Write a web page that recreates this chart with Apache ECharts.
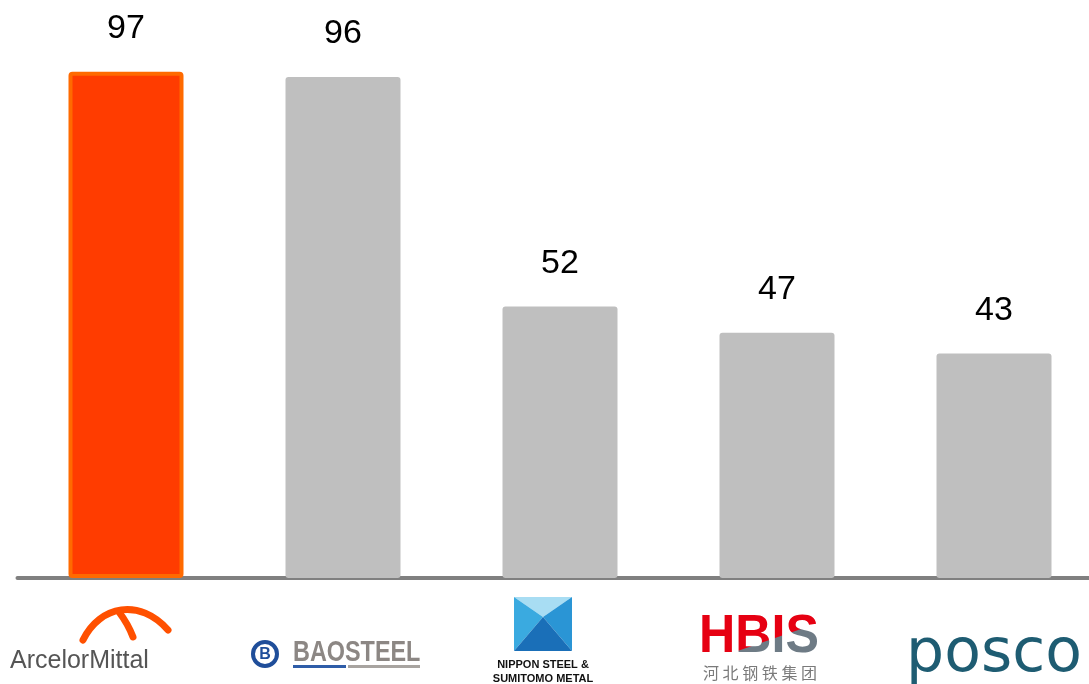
<!DOCTYPE html>
<html>
<head>
<meta charset="utf-8">
<script src="https://cdn.jsdelivr.net/npm/echarts@6/dist/echarts.min.js"></script>
<style>
html,body{margin:0;padding:0;background:#fff;}
#chart{width:1089px;height:684px;background:#fff;}
</style>
</head>
<body>
<div id="chart"></div>
<script>
const categories = ['ArcelorMittal', 'Baosteel', 'Nippon Steel & Sumitomo Metal', 'HBIS', 'POSCO'];
const values = [97, 96, 52, 47, 43];
const highlightCategory = 'ArcelorMittal';
const yMin = 0;
const yMax = 100;

const chart = echarts.init(document.getElementById('chart'));

const barData = categories.map((c, i) => {
  if (c === highlightCategory) {
    return {
      value: values[i],
      itemStyle: { color: '#FF3C00', borderColor: '#FF6A00', borderWidth: 4, borderRadius: 2 }
    };
  }
  return { value: values[i] };
});

const LATIN = '"Liberation Sans", Arial, sans-serif';

const graphics = [
  // ArcelorMittal
  { type: 'bezierCurve', shape: { x1: 83, y1: 640, cpx1: 100, cpy1: 605, cpx2: 140, cpy2: 598, x2: 168, y2: 630 },
    style: { fill: null, stroke: '#FF5000', lineWidth: 7, lineCap: 'round' } },
  { type: 'bezierCurve', shape: { x1: 119, y1: 612, cpx1: 125, cpy1: 620, cpx2: 130, cpy2: 629, x2: 133, y2: 637 },
    style: { fill: null, stroke: '#FF5000', lineWidth: 7, lineCap: 'round' } },
  { type: 'text', x: 10, y: 661,
    style: { text: 'ArcelorMittal', font: '25px ' + LATIN, fill: '#555555', align: 'left', verticalAlign: 'middle' } },

  // Baosteel
  { type: 'circle', shape: { cx: 265, cy: 654, r: 12 }, style: { fill: '#fff', stroke: '#1F4E9A', lineWidth: 4 } },
  { type: 'text', x: 265, y: 655,
    style: { text: 'B', font: 'bold 16px ' + LATIN, fill: '#1F4E9A', align: 'center', verticalAlign: 'middle' } },
  { type: 'text', x: 293, y: 653, scaleX: 0.78,
    style: { text: 'BAOSTEEL', font: 'bold 30px ' + LATIN, fill: '#8C8784', align: 'left', verticalAlign: 'middle' } },
  { type: 'rect', shape: { x: 293, y: 665, width: 53, height: 3 }, style: { fill: '#2F5DA8' } },
  { type: 'rect', shape: { x: 348, y: 665, width: 72, height: 3 }, style: { fill: '#A8A4A0' } },

  // Nippon Steel & Sumitomo Metal
  { type: 'polygon', shape: { points: [[514, 597], [572, 597], [543, 617]] }, style: { fill: '#A8DDF3' } },
  { type: 'polygon', shape: { points: [[514, 597], [514, 651], [543, 617]] }, style: { fill: '#3AAAE0' } },
  { type: 'polygon', shape: { points: [[572, 597], [572, 651], [543, 617]] }, style: { fill: '#2A95D5' } },
  { type: 'polygon', shape: { points: [[514, 651], [572, 651], [543, 617]] }, style: { fill: '#1A6FB8' } },
  { type: 'text', x: 543, y: 665,
    style: { text: 'NIPPON STEEL &', font: 'bold 11px ' + LATIN, fill: '#111', align: 'center', verticalAlign: 'middle' } },
  { type: 'text', x: 543, y: 679,
    style: { text: 'SUMITOMO METAL', font: 'bold 11px ' + LATIN, fill: '#111', align: 'center', verticalAlign: 'middle' } },

  // HBIS: gray text, then red tint applied only onto the text's own pixels (upper-left part)
  { type: 'text', x: 699, y: 637, scaleX: 0.93, z: 10,
    style: { text: 'HBIS', font: 'bold 54px ' + LATIN, fill: '#6E7B85', align: 'left', verticalAlign: 'middle' } },
  { type: 'polygon', z: 11,
    shape: { points: [[692, 600], [830, 600], [830, 619], [726, 655], [692, 666]] },
    style: { fill: '#E60012', blend: 'source-atop' } },
  { type: 'text', x: 760, y: 673,
    style: { text: '河 北 钢 铁 集 团', font: '16px "Noto Sans CJK SC"', fill: '#7A7A7A', align: 'center', verticalAlign: 'middle' } },

  // POSCO
  { type: 'text', x: 994, y: 655,
    style: { text: 'posco', font: '60px "DejaVu Sans", sans-serif', fill: '#1E5C72', align: 'center', verticalAlign: 'middle' } }
];

chart.setOption({
  animation: false,
  grid: { left: 17.5, top: 56, width: 1085, height: 522, containLabel: false, outerBoundsMode: 'none' },
  xAxis: {
    type: 'category',
    data: categories,
    axisLine: { show: true, lineStyle: { color: '#808080', width: 4 } },
    axisTick: { show: false },
    axisLabel: { show: false }
  },
  yAxis: {
    type: 'value', min: yMin, max: yMax, show: false,
    splitLine: { show: false }
  },
  series: [{
    type: 'bar',
    data: barData,
    barWidth: 115,
    itemStyle: { color: '#BFBFBF', borderRadius: 3 },
    label: {
      show: true, position: 'top', distance: 26,
      fontSize: 34, fontFamily: LATIN, color: '#000'
    }
  }],
  graphic: graphics
});
</script>
</body>
</html>
